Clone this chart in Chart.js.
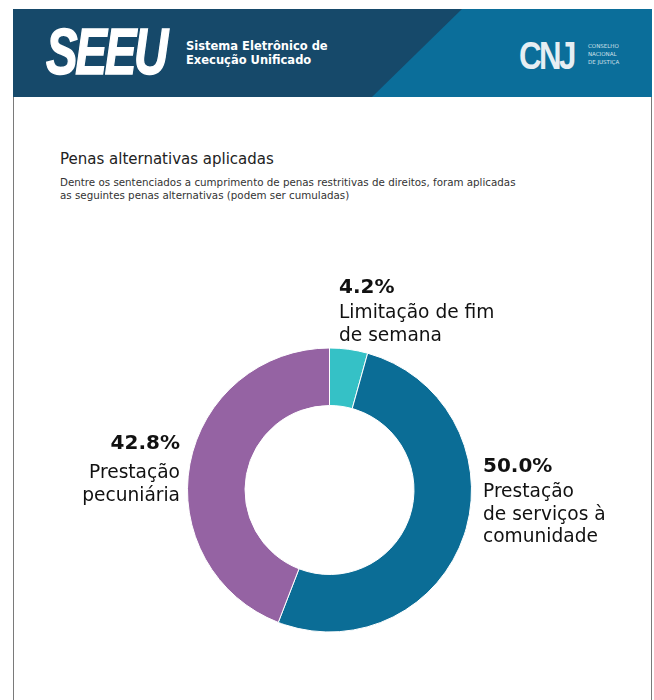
<!DOCTYPE html>
<html lang="pt-BR">
<head>
<meta charset="utf-8">
<title>Penas alternativas aplicadas</title>
<script src="https://cdn.jsdelivr.net/npm/chart.js@4/dist/chart.umd.min.js"></script>
<style>
  html, body { margin: 0; padding: 0; background: #fff; }
  body { width: 654px; height: 700px; position: relative; overflow: hidden; font-family: "DejaVu Sans", sans-serif; }
  .frame { position: absolute; left: 13px; top: 97px; width: 637px; height: 620px; border-left: 1px solid #7a7a7a; border-right: 1px solid #7a7a7a; }
  .header { position: absolute; left: 13px; top: 9px; width: 639px; height: 88px; background: #0b6e9a; overflow: hidden; }
  .header .dark { position: absolute; left: 0; top: 0; width: 100%; height: 100%; background: #16496a;
    clip-path: polygon(0 0, 449px 0, 359px 88px, 0 88px); }
  .logo { position: absolute; left: 33px; top: 11px; color: #fff; font-family: "Liberation Sans", sans-serif;
    font-weight: bold; font-style: italic; font-size: 64px; line-height: 64px; letter-spacing: -3px;
    -webkit-text-stroke: 1.5px #fff; transform: scaleX(0.74); transform-origin: left top; }
  .sys { position: absolute; left: 173px; top: 30px; color: #fff; font-weight: bold; font-size: 11.5px; line-height: 14px; }
  .cnj { position: absolute; left: 506px; top: 28px; color: #e6eef3; font-family: "Liberation Sans", sans-serif;
    font-weight: bold; font-size: 38px; line-height: 38px; letter-spacing: -3px; transform: scaleX(0.82); transform-origin: left top; }
  .cnj-sub { position: absolute; left: 575px; top: 33px; color: #cfe0ea; font-size: 5.5px; line-height: 8px; }
  .title { position: absolute; left: 60px; top: 150px; color: #222; font-size: 15px; }
  .subtitle { position: absolute; left: 60px; top: 176px; color: #333; font-size: 10.3px; line-height: 12.5px; }
  #wrap { position: absolute; left: 0; top: 0; width: 654px; height: 700px; }
</style>
</head>
<body>
<div class="header">
  <div class="dark"></div>
  <div class="logo">SEEU</div>
  <div class="sys">Sistema Eletrônico de<br>Execução Unificado</div>
  <div class="cnj">CNJ</div>
  <div class="cnj-sub">CONSELHO<br>NACIONAL<br>DE JUSTIÇA</div>
</div>
<div class="frame"></div>
<div class="title">Penas alternativas aplicadas</div>
<div class="subtitle">Dentre os sentenciados a cumprimento de penas restritivas de direitos, foram aplicadas<br>as seguintes penas alternativas (podem ser cumuladas)</div>
<div id="wrap"><canvas id="penasChart"></canvas></div>
<script>
'use strict'

// categories, one array of text lines per slice
const categories = [
    ['Limitação de fim', 'de semana'],
    ['Prestação', 'de serviços à', 'comunidade'],
    ['Prestação', 'pecuniária']
];
const values = [4.2, 50.0, 42.8];
const sliceColors = ['#35c1c6', '#0b6d96', '#9563a3'];

// where each label block sits, relative to the doughnut centre
const labelSpots = [
    { dx: 9.5, dy: -197, gap: 25, align: 'left' },
    { dx: 153.5, dy: -18, gap: 25, align: 'left' },
    { dx: -149.5, dy: -41, gap: 29, align: 'right' }
];

const sliceLabels = {
    id: 'sliceLabels',
    afterDraw(chart) {
        const ctx = chart.ctx;
        const arc = chart.getDatasetMeta(0).data[0];
        if (!arc) return;
        const cx = arc.x, cy = arc.y;
        ctx.save();
        ctx.fillStyle = '#111';
        ctx.textBaseline = 'alphabetic';
        values.forEach((v, i) => {
            const spot = labelSpots[i];
            const x = cx + spot.dx;
            let y = cy + spot.dy;
            ctx.textAlign = spot.align;
            ctx.font = 'bold 20px "DejaVu Sans"';
            ctx.fillText(v.toFixed(1) + '%', x, y);
            ctx.font = '18.6px "DejaVu Sans"';
            y += spot.gap;
            categories[i].forEach(line => {
                ctx.fillText(line, x, y);
                y += 22.5;
            });
        });
        ctx.restore();
    }
};

new Chart(document.getElementById('penasChart').getContext('2d'), {
    type: 'doughnut',
    data: {
        labels: categories.map(c => c.join(' ')),
        datasets: [{
            data: values,
            backgroundColor: sliceColors,
            borderColor: '#ffffff',
            borderWidth: 1,
            hoverOffset: 0
        }]
    },
    options: {
        responsive: true,
        maintainAspectRatio: false,
        animation: false,
        cutout: '59.5%',
        layout: { padding: { left: 187, right: 182, top: 347.5, bottom: 67.5 } },
        plugins: {
            legend: { display: false },
            tooltip: { enabled: false }
        }
    },
    plugins: [sliceLabels]
});
</script>
</body>
</html>
